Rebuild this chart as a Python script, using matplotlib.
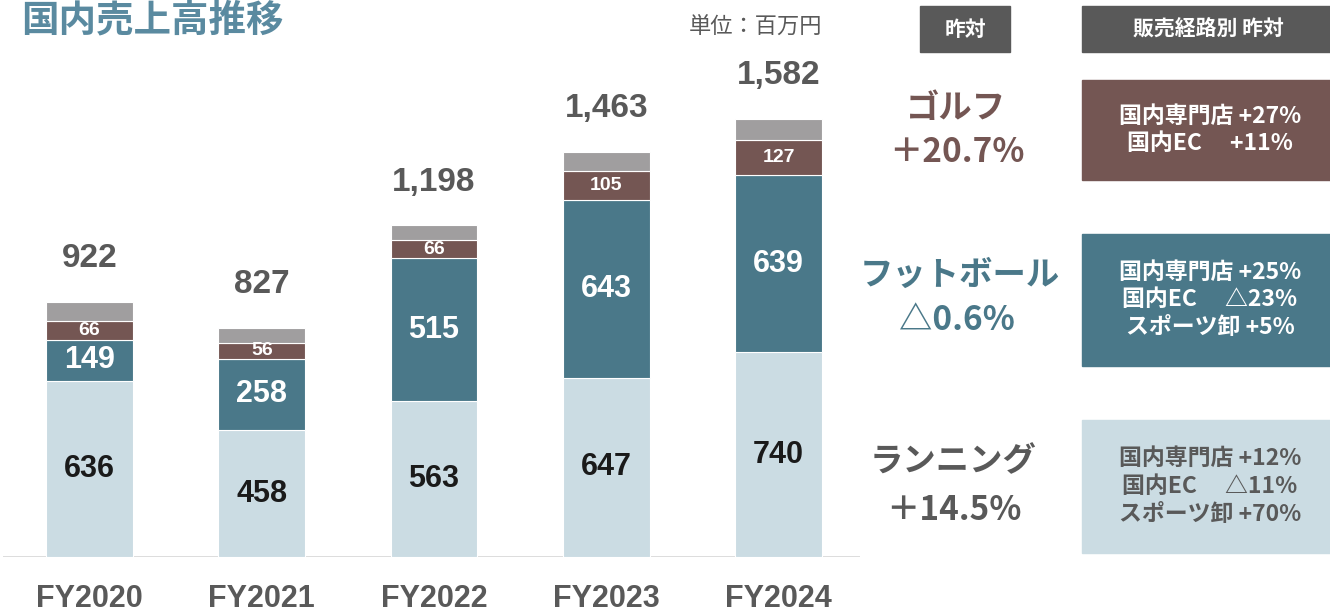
import matplotlib.pyplot as plt
from matplotlib.patches import Rectangle
import numpy as np

plt.rcParams['font.family'] = ['Noto Sans CJK JP', 'DejaVu Sans']

years = ["FY2020", "FY2021", "FY2022", "FY2023", "FY2024"]
running = [636, 458, 563, 647, 740]
football = [149, 258, 515, 643, 639]
golf = [66, 56, 66, 105, 127]
totals = [922, 827, 1198, 1463, 1582]
other = [t - r - f - g for t, r, f, g in zip(totals, running, football, golf)]

seg_names = ["ゴルフ", "フットボール", "ランニング"]
seg_yoy = ["＋20.7%", "△0.6%", "＋14.5%"]
channel_lines = [
    ["国内専門店 +27%", "国内EC　 +11%"],
    ["国内専門店 +25%", "国内EC　 △23%", "スポーツ卸 +5%"],
    ["国内専門店 +12%", "国内EC　 △11%", "スポーツ卸 +70%"],
]

c_run = "#cbdce3"
c_foot = "#4a7889"
c_golf = "#745653"
c_other = "#a09e9f"
c_text = "#595959"
num_font = ["Liberation Sans", "DejaVu Sans"]

W, H = 1330, 614
fig = plt.figure(figsize=(W / 100, H / 100), dpi=100)

# bar chart area (pixel geometry of the reference)
ax_left, ax_right, base_y = 3, 860, 557
centers_px = 89.5
step_px = 172.25
x0 = -(centers_px - ax_left) / step_px
x1 = 4 + (ax_right - (centers_px + 4 * step_px)) / step_px
ymax = 1800
px_per_unit = 0.277
ax = fig.add_axes([ax_left / W, (H - base_y) / H, (ax_right - ax_left) / W, ymax * px_per_unit / H])
ax.set_xlim(x0, x1)
ax.set_ylim(0, ymax)
ax.axis("off")
ax.axhline(0, color="#d9d9d9", lw=2, zorder=0)

x = np.arange(len(years))
bw = 0.505
bottom = np.zeros(len(years))
for vals, col in [(running, c_run), (football, c_foot), (golf, c_golf), (other, c_other)]:
    ax.bar(x, vals, bw, bottom=bottom, color=col, edgecolor="white", linewidth=0.8, zorder=2)
    bottom += np.array(vals)

for i in range(len(years)):
    ax.text(x[i], running[i] / 2, f"{running[i]}", ha="center", va="center",
            fontsize=22, fontweight="bold", color="#1a1a1a", family=num_font)
    ax.text(x[i], running[i] + football[i] / 2, f"{football[i]}", ha="center", va="center",
            fontsize=22, fontweight="bold", color="white", family=num_font)
    ax.text(x[i], running[i] + football[i] + golf[i] / 2, f"{golf[i]}", ha="center", va="center",
            fontsize=14, fontweight="bold", color="white", family=num_font)
    ax.annotate(f"{totals[i]:,}", (x[i], totals[i]), xytext=(0, 31), textcoords="offset points",
                ha="center", va="center", fontsize=24, fontweight="bold", color=c_text,
                family=num_font)
    ax.annotate(years[i], (x[i], 0), xytext=(0, -30), textcoords="offset points",
                ha="center", va="center", fontsize=22, fontweight="bold", color=c_text,
                family=["Liberation Sans Narrow", "Liberation Sans", "DejaVu Sans"])

# overlay in pixel coordinates for the side panel
ov = fig.add_axes([0, 0, 1, 1])
ov.set_xlim(0, W)
ov.set_ylim(H, 0)
ov.axis("off")

ov.text(21, 20, "国内売上高推移", ha="left", va="center", fontsize=27, fontweight="bold", color="#5a8aa0")
ov.text(756, 27, "単位：百万円", ha="center", va="center", fontsize=16, color=c_text)

ov.add_patch(Rectangle((920, 6), 90, 46, color=c_text))
ov.text(965, 29, "昨対", ha="center", va="center", fontsize=15, color="white", fontweight="bold")
ov.add_patch(Rectangle((1082, 6), 248, 46, color=c_text))
ov.text(1208, 29, "販売経路別 昨対", ha="center", va="center", fontsize=15, color="white", fontweight="bold")

boxes = [(80, 100, c_golf, "white"), (234, 132, c_foot, "white"), (420, 133, c_run, c_text)]
name_pos = [(956, 108, 957, 153), (960, 275, 957, 321), (953, 462, 954, 510)]
name_col = [c_golf, c_foot, c_text]
for k in range(3):
    by, bh, bc, tc = boxes[k]
    ov.add_patch(Rectangle((1082, by), 248, bh, color=bc))
    lines = channel_lines[k]
    n = len(lines)
    for j, ln in enumerate(lines):
        yy = by + bh / 2 + (j - (n - 1) / 2) * 28
        ov.text(1210, yy, ln, ha="center", va="center", fontsize=16.5, color=tc, fontweight="bold")
    nx, ny, px, py = name_pos[k]
    ov.text(nx, ny, seg_names[k], ha="center", va="center", fontsize=24,
            fontweight="bold", color=name_col[k])
    ov.text(px, py, seg_yoy[k], ha="center", va="center", fontsize=24,
            fontweight="bold", color=name_col[k])

fig.savefig("out.png", dpi=100)
